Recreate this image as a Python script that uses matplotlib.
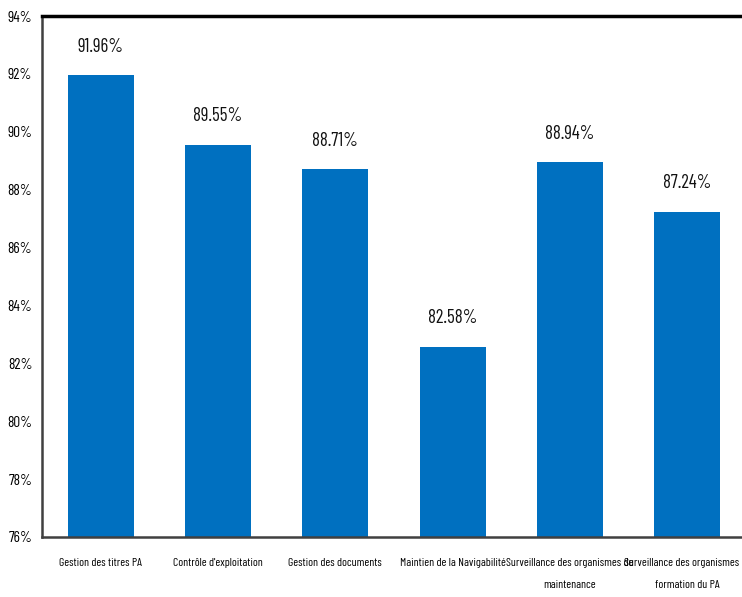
import matplotlib.pyplot as plt
from matplotlib.ticker import FuncFormatter

categories = ["Gestion des titres PA", "Contrôle d'exploitation", "Gestion des documents",
              "Maintien de la Navigabilité", "Surveillance des organismes de\nmaintenance",
              "Surveillance des organismes de\nformation du PA"]
values = [91.96, 89.55, 88.71, 82.58, 88.94, 87.24]
value_labels = ["91.96%", "89.55%", "88.71%", "82.58%", "88.94%", "87.24%"]
yticks = [76, 78, 80, 82, 84, 86, 88, 90, 92, 94]

plt.rcParams['font.family'] = ['Barlow Condensed', 'DejaVu Sans']

fig = plt.figure(figsize=(7.42, 5.97), dpi=100)
# axes runs past the right edge, like the original screenshot
ax = fig.add_axes([42/742, 1 - 537/597, 704/742, 521/597])

x = range(len(categories))
ax.bar(x, [v - 76 for v in values], bottom=76, width=0.565, color='#0070C0')

for i, (v, t) in enumerate(zip(values, value_labels)):
    ax.annotate(t, (i, v), xytext=(0, 14), textcoords='offset points',
                ha='center', va='bottom', fontsize=13.5, color='#111111')

ax.set_xlim(-0.5, 5.5)
ax.set_ylim(76, 94)
ax.set_yticks(yticks)
ax.yaxis.set_major_formatter(FuncFormatter(lambda v, p: f"{v:.0f}%"))
ax.set_xticks(list(x))
ax.set_xticklabels(categories, fontsize=8.5, linespacing=2.5, va='top')
ax.tick_params(axis='y', length=0, pad=7, labelsize=11)
ax.tick_params(axis='x', length=0, pad=15)

ax.spines['right'].set_visible(False)
ax.spines['top'].set_linewidth(2.5)
ax.spines['top'].set_color('black')
ax.spines['left'].set_linewidth(1.8)
ax.spines['left'].set_color('#404040')
ax.spines['bottom'].set_linewidth(1.8)
ax.spines['bottom'].set_color('#404040')

fig.savefig('out.png', dpi=100)
